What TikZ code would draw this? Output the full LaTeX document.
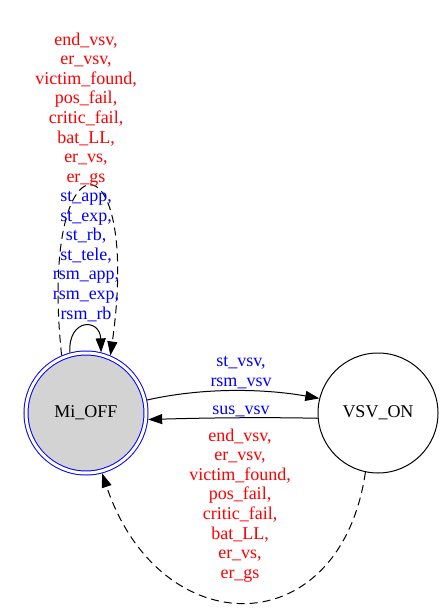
\documentclass[tikz,border=0pt]{standalone}
\usepackage{fontspec}
\setmainfont{Liberation Serif}
\usetikzlibrary{arrows.meta}
\definecolor{gvred}{RGB}{255,0,0}
\definecolor{gvblue}{RGB}{0,0,255}
\definecolor{gvgray}{RGB}{211,211,211}
\begin{document}
\begin{tikzpicture}[x=1pt,y=-1pt,
  lbl/.style={font=\fontsize{18}{19.6}\selectfont, align=center, inner sep=0pt},
  state/.style={circle, draw, line width=1pt, minimum size=120pt, inner sep=0pt, font=\fontsize{18}{19.6}\selectfont},
  edge/.style={line width=1pt, -{Triangle[length=14pt,width=10pt]}},
  dashedge/.style={edge, dash pattern=on 8pt off 5pt},
]
\useasboundingbox (0,0) rectangle (444,609);
\node[state, draw=gvblue, double=white, double distance=3pt, fill=gvgray, outer sep=2.5pt] (mioff) at (86,413) {Mi\_OFF};
\node[state, outer sep=0.5pt] (vsvon) at (378,413) {VSV\_ON};

\draw[edge] (mioff.12) .. controls (200,388) and (260,388) .. (vsvon.166);
\draw[edge] (vsvon.185) .. controls (260,417) and (200,418) .. (mioff.354);
\draw[dashedge] (vsvon.258) .. controls (340,645) and (160,645) .. (mioff.285);
\draw[edge] (mioff.105) .. controls (68,318) and (100,318) .. (mioff.76);
\draw[dashedge] (mioff.113) .. controls (38,130) and (142,130) .. (mioff.67);

\node[lbl, text=gvred] (ltop) at (86,109.4) {end\_vsv,\\er\_vsv,\\victim\_found,\\pos\_fail,\\critic\_fail,\\bat\_LL,\\er\_vs,\\er\_gs};
\node[lbl, text=gvblue] (lloop) at (86,256.3) {st\_app,\\st\_exp,\\st\_rb,\\st\_tele,\\rsm\_app,\\rsm\_exp,\\rsm\_rb};
\node[lbl, text=gvblue] (lfwd) at (241,372.4) {st\_vsv,\\rsm\_vsv};
\node[lbl, text=gvblue, anchor=base] (lback) at (241,414) {sus\_vsv};
\node[lbl, text=gvred] (lbot) at (240,505.3) {end\_vsv,\\er\_vsv,\\victim\_found,\\pos\_fail,\\critic\_fail,\\bat\_LL,\\er\_vs,\\er\_gs};
\end{tikzpicture}
\end{document}
